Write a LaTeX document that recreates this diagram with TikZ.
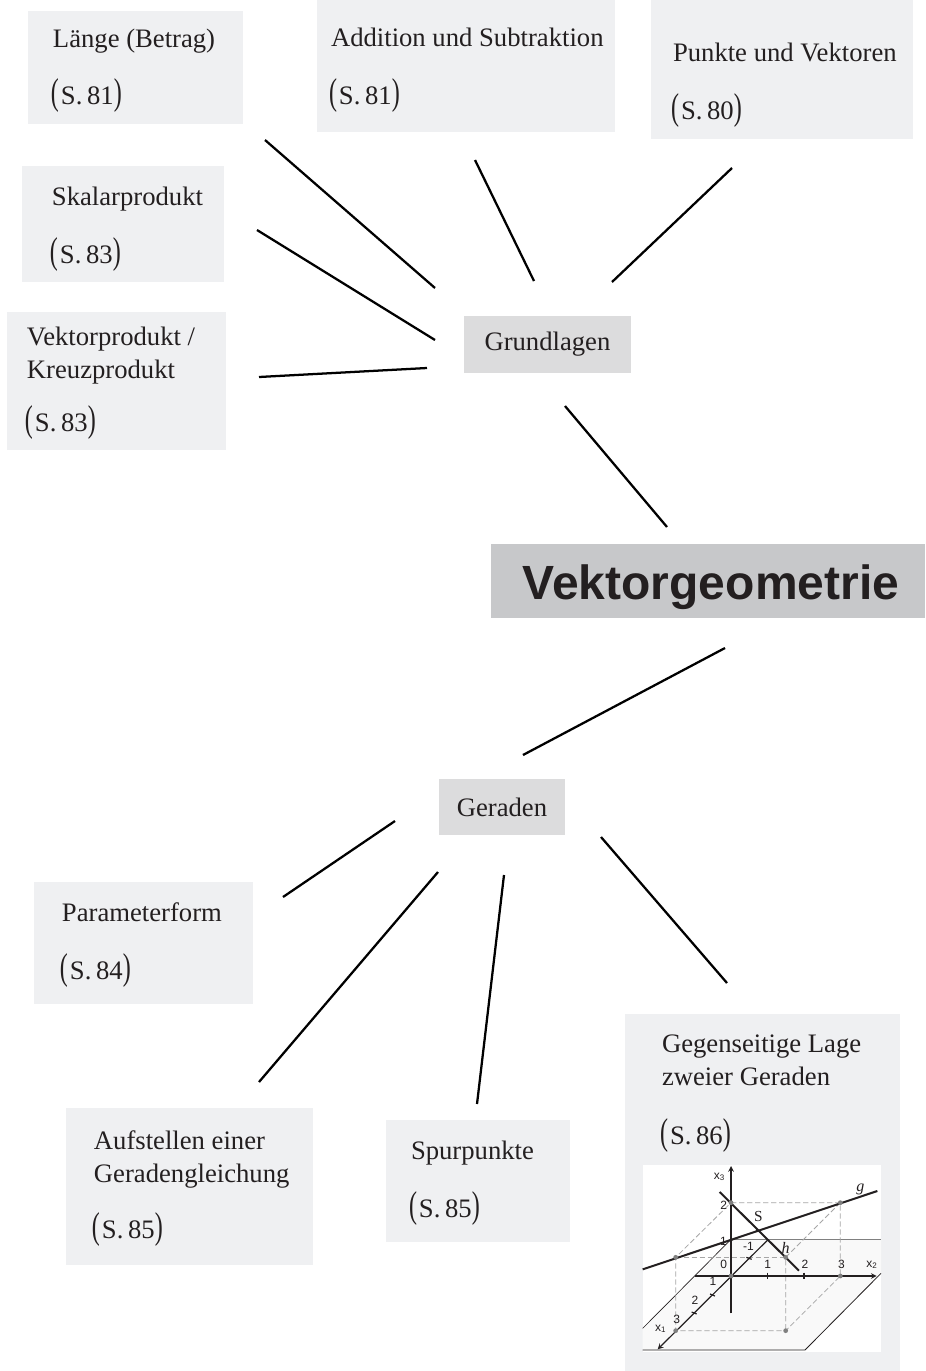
\documentclass[tikz,border=0pt]{standalone}
\usepackage{fontspec}
\setmainfont{Liberation Serif}
\newfontfamily\titelfont{Liberation Sans}
\usepackage{tikz}
\usetikzlibrary{arrows}
\definecolor{tinte}{HTML}{231F20}
\definecolor{hell}{HTML}{EFF0F2}
\definecolor{mittel}{HTML}{DCDCDD}
\definecolor{dunkel}{HTML}{C7C8CA}
\newcommand{\seite}[1]{\hspace{-1.5pt}\scalebox{0.9}[1.4]{(}\hspace{1.5pt}S.\hspace{3.5pt}#1\scalebox{0.9}[1.4]{)}}
\newcommand{\tiefe}[1]{\rule[-#1]{0pt}{#1}}
\newcommand{\hoehe}[1]{\rule{0pt}{#1}}
\tikzstyle{thema} = [rectangle, fill = hell, text = tinte, align = flush left, font = \fontsize{20}{24.75}\selectfont]
\tikzstyle{basis} = [rectangle, fill = mittel, text = tinte, text centered, font = \fontsize{20}{24.75}\selectfont]
\tikzstyle{titel} = [rectangle, fill = dunkel, text = tinte, text centered, font = \titelfont\bfseries\fontsize{36}{36}\selectfont]
\tikzstyle{linie} = [line width = 1.7pt, black]
\tikzstyle{schnitt} = [gray!70, line width = 0.6pt, dash pattern = on 4pt off 2pt]
\tikzstyle{achse} = [tinte, line width = 0.9pt]
\tikzstyle{gerade} = [tinte, line width = 1.5pt]
\tikzstyle{zahl} = [font = \titelfont\fontsize{9}{9}\selectfont, text = tinte, inner sep = 0pt]
\tikzstyle{punkt} = [gray, fill = gray]

\begin{document}
\begin{tikzpicture}[x=0.75pt, y=-0.75pt, node distance=75pt]
		\useasboundingbox (0,0) rectangle (925,1371);
		\node (vektor) [titel, minimum width=325.5pt, minimum height=55.5pt] at (708,581) {\hspace{4.5pt}\hoehe{36pt}Vektorgeometrie};
		\node (grundlagen) [basis, above of=vektor, xshift=-120.4pt, yshift=102.4pt, minimum width=125.25pt, minimum height=42.75pt] {Grundlagen};
		\node (geraden) [basis, below of=vektor, xshift=-154.5pt, yshift=-94.5pt, minimum width=94.5pt, minimum height=42pt] {Geraden};

		\node (laenge) [thema, above of=grundlagen, xshift=-309pt, yshift=132.75pt, minimum height=84.75pt, inner xsep=18.75pt, text width=123.75pt] {\hoehe{19pt}L\"ange (Betrag)\\[18.5pt]\seite{81}};
		\node (addition) [thema, above of=grundlagen, xshift=-61.1pt, yshift=133.9pt, minimum height=99pt, inner xsep=10.5pt, text width=202.5pt] {\hoehe{20pt}\mbox{Addition und Subtraktion}\\[18.5pt]\seite{81}};
		\node (punkte) [thema, above of=grundlagen, xshift=175.9pt, yshift=131.25pt, minimum height=104.25pt, inner xsep=16.5pt, text width=163.5pt] {\hoehe{38pt}\mbox{Punkte und Vektoren}\\[18.5pt]\seite{80}};
		\node (skalar) [thema, above of=grundlagen, xshift=-318.4pt, yshift=15.4pt, minimum height=87pt, inner xsep=22.5pt, text width=106.5pt] {\hoehe{22pt}\mbox{Skalarprodukt}\\[18.5pt]\seite{83}};
		\node (kreuz) [thema, below of=grundlagen, xshift=-323.25pt, yshift=47.6pt, minimum height=103.5pt, inner xsep=15pt, text width=134.25pt] {\hoehe{17pt}Vektorprodukt /\\Kreuzprodukt\\[15pt]\seite{83}};

		\node (parameter) [thema, below of=geraden, xshift=-268.9pt, yshift=-27pt, minimum height=91.5pt, inner xsep=21pt, text width=122.25pt] {\hoehe{17pt}Parameterform\\[18.5pt]\seite{84}};
		\node (aufstellen) [thema, below of=geraden, xshift=-234.4pt, yshift=-209.6pt, minimum height=117.75pt, inner xsep=21pt, text width=143.25pt] {\hoehe{17.5pt}Aufstellen einer\\\mbox{Geradengleichung}\\[17pt]\seite{85}};
		\node (spur) [thema, below of=geraden, xshift=-18pt, yshift=-205.5pt, minimum height=91.5pt, inner xsep=18.75pt, text width=100.5pt] {\hoehe{17pt}Spurpunkte\\[18.5pt]\seite{85}};
		\node (lage) [thema, below of=geraden, xshift=195.4pt, yshift=-214.1pt, minimum height=267.75pt, inner xsep=27.75pt, text width=150.75pt] {Gegenseitige Lage\\zweier Geraden\\[19pt]\seite{86}\tiefe{154pt}};

		\coordinate (laengeEnde) at (265,140);
		\coordinate (laengeStart) at (435,288);
		\coordinate (additionEnde) at (475,160);
		\coordinate (additionStart) at (534,281);
		\coordinate (punkteEnde) at (732,168);
		\coordinate (punkteStart) at (612,282);
		\coordinate (skalarEnde) at (257,230);
		\coordinate (skalarStart) at (435,340);
		\coordinate (kreuzEnde) at (259,377);
		\coordinate (kreuzStart) at (427,368);
		\coordinate (grundlagenEnde) at (565,406);
		\coordinate (grundlagenStart) at (667,527);
		\coordinate (geradenStart) at (725,648);
		\coordinate (geradenEnde) at (523,755);
		\coordinate (parameterStart) at (395,821);
		\coordinate (parameterEnde) at (283,897);
		\coordinate (aufstellenStart) at (438,872);
		\coordinate (aufstellenEnde) at (259,1082);
		\coordinate (spurStart) at (504,875);
		\coordinate (spurEnde) at (477,1104);
		\coordinate (lageStart) at (601,837);
		\coordinate (lageEnde) at (727,983);

		\draw [linie](laengeStart) -- (laengeEnde);
		\draw [linie](additionStart) -- (additionEnde);
		\draw [linie](punkteStart) -- (punkteEnde);
		\draw [linie](skalarStart) -- (skalarEnde);
		\draw [linie](kreuzStart) -- (kreuzEnde);
		\draw [linie](grundlagenStart) -- (grundlagenEnde);
		\draw [linie](geradenStart) -- (geradenEnde);
		\draw [linie](parameterStart) -- (parameterEnde);
		\draw [linie](aufstellenStart) -- (aufstellenEnde);
		\draw [linie](spurStart) -- (spurEnde);
		\draw [linie](lageStart) -- (lageEnde);

		\begin{scope}[shift={(625,1140)}, x=0.25pt, y=-0.25pt]
			\fill [white] (53,75) rectangle (768,635);
			\fill [gray!5] (53,565) -- (318,298) -- (768,298) -- (768,400) -- (540,630) -- (53,630) -- cycle;
			\draw [tinte, line width=0.5pt] (53,565) -- (318,298);
			\draw [gray, line width=0.7pt] (318,298) -- (768,298);
			\draw [tinte, line width=0.6pt] (53,630) -- (540,630) -- (768,400);

			\draw [schnitt] (318,188) -- (646,188) -- (646,408) -- (482,572) -- (152,572) -- (152,352) -- (318,188);
			\draw [schnitt] (646,188) -- (482,352) -- (482,572);
			\draw [schnitt] (152,352) -- (482,352);

			\draw [achse, -stealth] (210,408) -- (755,408);
			\draw [achse, -stealth] (430,298) -- (98,628);
			\draw [achse, -stealth] (318,520) -- (318,78);
			\draw [achse] (428,398) -- (428,418);
			\draw [achse] (537,398) -- (537,418);
			\draw [achse] (364,352) -- (380,358);
			\draw [achse] (255,462) -- (270,468);
			\draw [achse] (200,516) -- (215,522);

			\draw [gerade] (53,388) -- (757,153);
			\draw [gerade] (284,156) -- (522,392);

			\foreach \punktx/\punkty in {318/188, 646/188, 152/352, 482/352, 318/408, 646/408, 152/572, 482/572}
				\fill [punkt] (\punktx,\punkty) circle (1.8pt);
			\fill [tinte] (397,271) circle (1.3pt);
			\fill [tinte] (318,300) circle (1.3pt);

			\node (xdrei) [zahl] at (283,110) {x\textsubscript{3}};
			\node (xzwei) [zahl] at (741,375) {x\textsubscript{2}};
			\node (xeins) [zahl] at (107,566) {x\textsubscript{1}};
			\node (zdzwei) [zahl] at (296,195) {2};
			\node (zdeins) [zahl] at (295,303) {1};
			\node (zeminus) [zahl] at (370,318) {-1};
			\node (znull) [zahl] at (296,372) {0};
			\node (zzeins) [zahl] at (428,372) {1};
			\node (zzzwei) [zahl] at (540,372) {2};
			\node (zzdrei) [zahl] at (649,372) {3};
			\node (zeeins) [zahl] at (264,425) {1};
			\node (zezwei) [zahl] at (210,480) {2};
			\node (zedrei) [zahl] at (155,538) {3};
			\node (marke) [zahl, font=\fontsize{11.5}{11.5}\selectfont] at (400,228) {S};
			\node (nameh) [zahl, font=\itshape\fontsize{12}{12}\selectfont] at (482,323) {h};
			\node (nameg) [zahl, font=\itshape\fontsize{12}{12}\selectfont] at (706,148) {g};
		\end{scope}
	\end{tikzpicture}
\end{document}
